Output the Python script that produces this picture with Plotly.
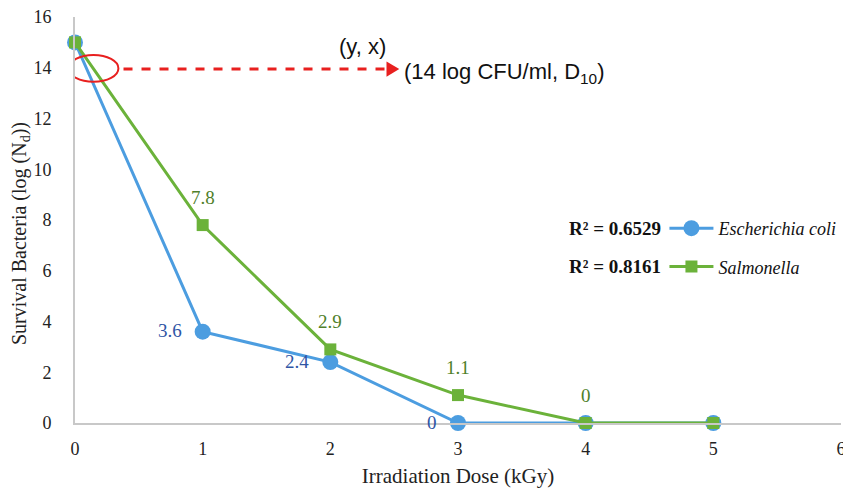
import plotly.graph_objects as go

dose = [0, 1, 2, 3, 4, 5]
ecoli = [15, 3.6, 2.4, 0, 0, 0]
salmonella = [15, 7.8, 2.9, 1.1, 0, 0]
ecoli_labels = ["", "3.6", "2.4", "0", "", ""]
salm_labels = ["", "7.8", "2.9", "1.1", "0", ""]
r2_ecoli = "R² = 0.6529"
r2_salm = "R² = 0.8161"

BLUE = "#4C9DE0"
GREEN = "#6BB23A"
BLUE_TXT = "#2F55A5"
GREEN_TXT = "#4F7F2A"
RED = "#E8201F"
SERIF = "Liberation Serif, Times New Roman, serif"
SANS = "Liberation Sans, Arial, sans-serif"

fig = go.Figure()
fig.add_trace(go.Scatter(
    x=dose, y=ecoli, mode="lines+markers", name="Escherichia coli",
    line=dict(color=BLUE, width=3), marker=dict(symbol="circle", size=16, color=BLUE),
    cliponaxis=False, legendgroup="a"))
fig.add_trace(go.Scatter(
    x=dose, y=salmonella, mode="lines+markers", name="Salmonella",
    line=dict(color=GREEN, width=3), marker=dict(symbol="square", size=12, color=GREEN),
    cliponaxis=False, legendgroup="b"))

# data labels
for xv, yv, t in zip(dose, ecoli, ecoli_labels):
    if t:
        fig.add_annotation(x=xv, y=yv, xref="x", yref="y", text=t, showarrow=False,
                           xanchor="right", xshift=-19, yshift=1,
                           font=dict(family=SERIF, size=19, color=BLUE_TXT))
for xv, yv, t in zip(dose, salmonella, salm_labels):
    if t:
        fig.add_annotation(x=xv, y=yv, xref="x", yref="y", text=t, showarrow=False,
                           yshift=28, font=dict(family=SERIF, size=19, color=GREEN_TXT))

# red ellipse and dashed arrow
fig.add_shape(type="circle", xref="x", yref="y", x0=-0.05, x1=0.34, y0=13.45, y1=14.5,
              line=dict(color=RED, width=2))
fig.add_shape(type="line", xref="x", yref="y", x0=0.38, x1=2.45, y0=13.95, y1=13.95,
              line=dict(color=RED, width=3, dash="dash"))
fig.add_shape(type="path", xref="x", yref="y",
              path="M 2.44 14.25 L 2.54 13.95 L 2.44 13.65 Z",
              fillcolor=RED, line=dict(color=RED, width=0))

fig.add_annotation(x=2.25, y=14.85, xref="x", yref="y", text="(y, x)", showarrow=False,
                   font=dict(family=SANS, size=22, color="#111"))
fig.add_annotation(x=2.56, y=13.8, xref="x", yref="y", text="(14 log CFU/ml, D<sub>10</sub>)",
                   showarrow=False, xanchor="left", font=dict(family=SANS, size=22, color="#111"))

fig.add_annotation(xref="paper", yref="paper", x=0.767, y=(423 - 228) / 406, xanchor="right",
                   text="<b>" + r2_ecoli + "</b>", showarrow=False,
                   font=dict(family=SERIF, size=19, color="#111"))
fig.add_annotation(xref="paper", yref="paper", x=0.767, y=(423 - 266) / 406, xanchor="right",
                   text="<b>" + r2_salm + "</b>", showarrow=False,
                   font=dict(family=SERIF, size=19, color="#111"))

# y axis title (placed as annotation to match vertical position)
fig.add_annotation(xref="paper", yref="paper", x=(20 - 75) / 767, y=(423 - 234) / 406,
                   xanchor="center", yanchor="middle",
                   text="Survival Bacteria (log (N<sub>d</sub>))", textangle=-90, showarrow=False,
                   font=dict(family=SERIF, size=20, color="#222"))

fig.update_layout(
    width=843, height=484, plot_bgcolor="white", paper_bgcolor="white",
    margin=dict(l=67, r=9, t=9, b=69),
    showlegend=True,
    legend=dict(x=0.7685, y=(423 - 210) / 406, xanchor="left", yanchor="top",
                font=dict(family=SERIF, size=18, color="#111", style="italic"),
                bgcolor="rgba(0,0,0,0)", tracegroupgap=12, itemwidth=44),
    font=dict(family=SERIF, size=18, color="#222"),
)
fig.update_xaxes(range=[0, 6], tickvals=[0, 1, 2, 3, 4, 5, 6], showgrid=False, zeroline=False,
                 showline=True, linecolor="#C8C8C8", linewidth=2, ticks="", ticklabelstandoff=8,
                 automargin=False, ticklabeloverflow="allow",
                 title=dict(text="Irradiation Dose (kGy)", font=dict(family=SERIF, size=21), standoff=11),
                 tickfont=dict(family=SERIF, size=18))
fig.update_yaxes(range=[0, 16], tickvals=[0, 2, 4, 6, 8, 10, 12, 14, 16], showgrid=False, zeroline=False,
                 showline=True, linecolor="#C8C8C8", linewidth=2, ticks="", ticklabelstandoff=18,
                 automargin=False, ticklabeloverflow="allow",
                 tickfont=dict(family=SERIF, size=18))

fig.write_html("out.html")
